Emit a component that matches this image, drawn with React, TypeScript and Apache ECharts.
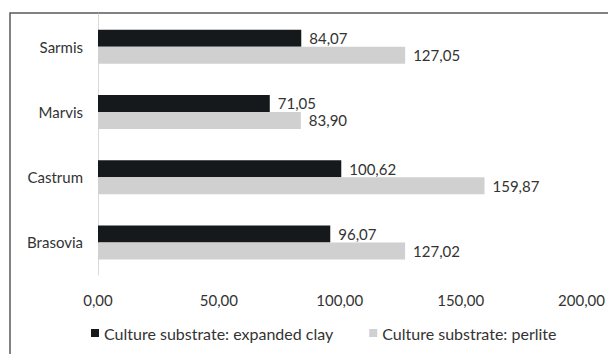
import React, { useEffect, useRef } from "react";
import * as echarts from "echarts";

const categories = ["Sarmis", "Marvis", "Castrum", "Brasovia"];
const seriesNames = ["Culture substrate: expanded clay", "Culture substrate: perlite"];
const expandedClay = [84.07, 71.05, 100.62, 96.07];
const perlite = [127.05, 83.9, 159.87, 127.02];
const xTicks = [0, 50, 100, 150, 200];

const fmt = (v: number) => v.toFixed(2).replace(".", ",");
const FONT = "Lato";
const TEXT = "#333333";

export default function App() {
  const ref = useRef<HTMLDivElement>(null);
  useEffect(() => {
    if (!ref.current) return;
    const chart = echarts.init(ref.current, undefined, { renderer: "svg" });
    const valueLabel = {
      show: true,
      position: "right",
      distance: 8,
      fontFamily: FONT,
      fontSize: 15,
      color: TEXT,
      formatter: (p: any) => fmt(p.value),
    };
    chart.setOption({
      animation: false,
      backgroundColor: "#ffffff",
      textStyle: { fontFamily: FONT },
      graphic: [
        {
          type: "rect",
          shape: { x: 10, y: 13, width: 800, height: 600 },
          style: { fill: "none", stroke: "#5a5a5a", lineWidth: 1.5 },
          silent: true,
        },
      ],
      grid: { left: 98, right: 24, top: 14, bottom: 79, containLabel: false },
      legend: {
        left: 91,
        top: 325,
        padding: 0,
        itemWidth: 8,
        itemHeight: 8,
        itemGap: 36,
        icon: "rect",
        textStyle: { fontFamily: FONT, fontSize: 16, color: TEXT },
        data: seriesNames,
      },
      xAxis: {
        type: "value",
        min: xTicks[0],
        max: xTicks[xTicks.length - 1],
        interval: 50,
        axisLine: { show: false },
        axisTick: { show: false },
        splitLine: { show: false },
        axisLabel: {
          margin: 17,
          fontFamily: FONT,
          fontSize: 15,
          color: TEXT,
          formatter: (v: number) => fmt(v),
        },
      },
      yAxis: {
        type: "category",
        data: categories,
        inverse: true,
        axisLine: { show: true, lineStyle: { color: "#d9d9d9", width: 1 } },
        axisTick: { show: false },
        axisLabel: { margin: 15, fontFamily: FONT, fontSize: 15, color: TEXT },
      },
      series: [
        {
          name: seriesNames[0],
          type: "bar",
          data: expandedClay,
          barWidth: 17,
          barGap: "0%",
          itemStyle: { color: "#16191c" },
          label: valueLabel,
        },
        {
          name: seriesNames[1],
          type: "bar",
          data: perlite,
          barWidth: 17,
          barGap: "0%",
          itemStyle: { color: "#d0d0d0" },
          label: valueLabel,
        },
      ],
    });
    return () => chart.dispose();
  }, []);
  return (
    <div
      ref={ref}
      style={{ position: "fixed", left: 0, top: 0, width: 608, height: 354 }}
    />
  );
}
